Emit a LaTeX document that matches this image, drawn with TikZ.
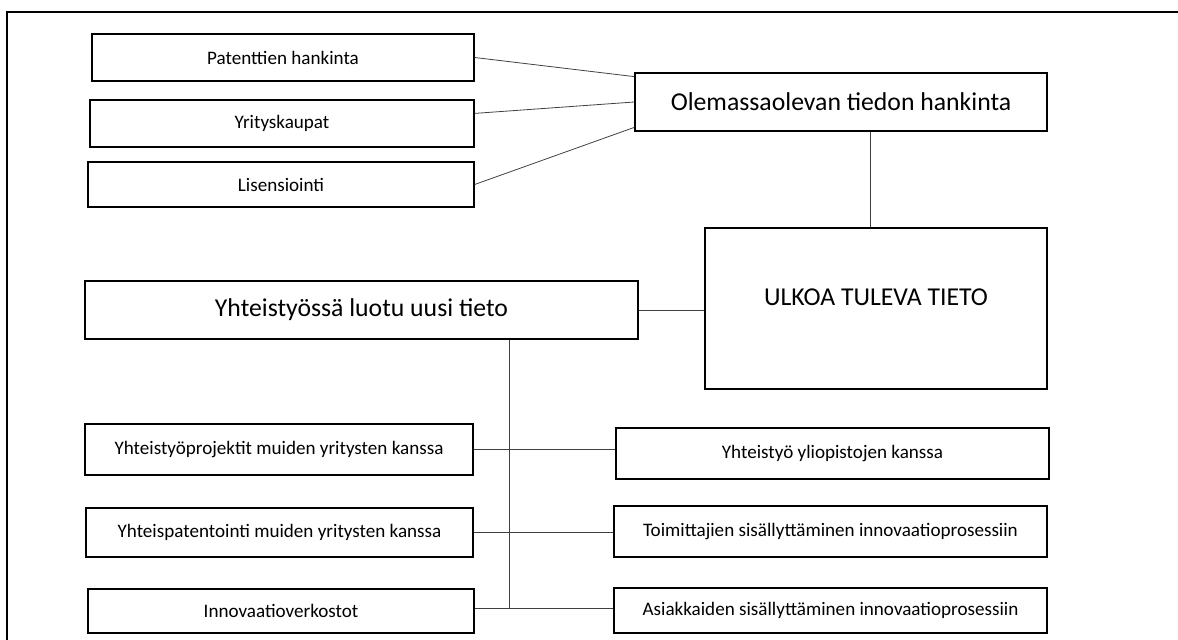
\documentclass[tikz,border=0pt]{standalone}
\usepackage{fontspec}
\setmainfont{Carlito}
\usepackage{tikz}
\usetikzlibrary{positioning}

\begin{document}
\begin{tikzpicture}[x=0.0265cm, y=-0.0265cm]
\useasboundingbox (0,0) rectangle (1178,640);
% frame
\draw[line width=1.6pt] (7,640) -- (7,12) -- (1178,12);

\begin{scope}[every node/.style={rectangle,draw,line width=1pt,inner sep=0pt,
                                 font=\fontsize{14.4}{17}\selectfont}]
  \node[minimum width=382*0.0265cm, minimum height=47*0.0265cm] (pat) at (283,57.5) {Patenttien hankinta};
  \node[minimum width=384*0.0265cm, minimum height=47*0.0265cm] (yri) at (282,123.5) {Yrityskaupat};
  \node[minimum width=386*0.0265cm, minimum height=45*0.0265cm] (lis) at (281,184.5) {Lisensiointi};
  \node[minimum width=412*0.0265cm, minimum height=58*0.0265cm, font=\fontsize{19.4}{23}\selectfont] (ole) at (841,102) {Olemassaolevan tiedon hankinta};
  \node[minimum width=342*0.0265cm, minimum height=161*0.0265cm, font=\fontsize{19.4}{23}\selectfont,
        text depth=22*0.0265cm] (ulk) at (876,308.5) {ULKOA TULEVA TIETO};
  \node[minimum width=553*0.0265cm, minimum height=58*0.0265cm, font=\fontsize{19.4}{23}\selectfont] (yht) at (361.5,310) {Yhteistyössä luotu uusi tieto};
  % left column
  \node[minimum width=388*0.0265cm, minimum height=51*0.0265cm] (p1) at (279,449.5) {Yhteistyöprojektit muiden yritysten kanssa};
  \node[minimum width=387*0.0265cm, minimum height=49*0.0265cm] (p2) at (279.5,532.5) {Yhteispatentointi muiden yritysten kanssa};
  \node[minimum width=386*0.0265cm, minimum height=44*0.0265cm] (p3) at (281,611) {Innovaatioverkostot};
  % right column
  \node[minimum width=433*0.0265cm, minimum height=51*0.0265cm] (q1) at (832.5,453.5) {Yhteistyö yliopistojen kanssa};
  \node[minimum width=433*0.0265cm, minimum height=51*0.0265cm] (q2) at (830.5,531.5) {Toimittajien sisällyttäminen innovaatioprosessiin};
  \node[minimum width=433*0.0265cm, minimum height=45*0.0265cm] (q3) at (830.5,610.5) {Asiakkaiden sisällyttäminen innovaatioprosessiin};
\end{scope}

\coordinate (c) at (870,0);
\coordinate (t) at (509,608);

\begin{scope}[every edge/.style={draw=black!75, line width=0.6pt}]
    \path (pat.east) edge (ole.173);
    \path (yri.3) edge (ole.180);
    \path (lis.east) edge (ole.187);
    \path (ole.south -| c) edge (ulk.north -| c);
    \path (yht.east) edge (yht.east -| ulk.west);
    \path (yht.south -| t) edge (t);
    \path (p1.east) edge (p1.east -| q1.west);
    \path (p2.east) edge (p2.east -| q2.west);
    \path (t -| p3.east) edge (t -| q3.west);
\end{scope}
\end{tikzpicture}
\end{document}
